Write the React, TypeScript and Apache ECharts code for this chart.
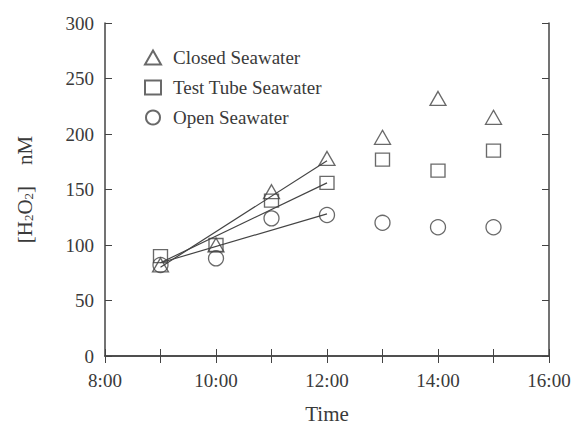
import React, { useEffect, useRef } from "react";
import * as echarts from "echarts";

const hours = [9, 10, 11, 12, 13, 14, 15];
const closedSeawater = [82, 100, 148, 178, 197, 232, 215];
const testTubeSeawater = [90, 100, 140, 156, 177, 167, 185];
const openSeawater = [82, 88, 124, 127, 120, 116, 116];

// fitted line endpoints (9:00 and 12:00)
const fitHours = [9, 12];
const fitClosed = [80, 176];
const fitTestTube = [84, 156];
const fitOpen = [84, 128];

const FONT = "Liberation Serif";
const INK = "#444";
const TXT = "#3a3a3a";

export default function App() {
  const ref = useRef<HTMLDivElement>(null);
  useEffect(() => {
    const chart = echarts.init(ref.current!, null, { renderer: "svg" });
    const pts = (ys: number[]) => hours.map((h, i) => [h, ys[i]]);
    const fit = (ys: number[]) => fitHours.map((h, i) => [h, ys[i]]);
    const markerSeries = (name: string, symbol: string, size: any, ys: number[]) => ({
      name,
      type: "scatter",
      symbol,
      symbolSize: size,
      data: pts(ys),
      itemStyle: { color: "rgba(255,255,255,0)", borderColor: INK, borderWidth: 1.3 },
      z: 3,
    });
    const lineSeries = (ys: number[]) => ({
      type: "line",
      data: fit(ys),
      showSymbol: false,
      symbol: "none",
      lineStyle: { color: INK, width: 1.2 },
      silent: true,
      z: 2,
    });
    chart.setOption({
      animation: false,
      textStyle: { fontFamily: FONT },
      grid: { left: 105, right: 28, top: 23, bottom: 69, containLabel: false, outerBoundsMode: "none" },
      legend: {
        left: 139,
        top: 43,
        orient: "vertical",
        itemGap: 11,
        itemWidth: 16,
        itemHeight: 14,
        textStyle: { fontFamily: FONT, fontSize: 19, color: TXT, padding: [0, 0, 0, 7] },
        data: ["Closed Seawater", "Test Tube Seawater", "Open Seawater"],
      },
      xAxis: [
        {
          type: "value",
          min: 8,
          max: 16,
          interval: 1,
          name: "Time",
          nameLocation: "middle",
          nameGap: 47,
          nameTextStyle: { fontFamily: FONT, fontSize: 21, color: TXT },
          axisLine: { lineStyle: { color: INK, width: 1.5 } },
          axisTick: { inside: true, length: 7, lineStyle: { color: INK } },
          axisLabel: {
            fontFamily: FONT,
            fontSize: 19,
            color: TXT,
            margin: 15,
            formatter: (v: number) => (v % 2 === 0 ? `${v}:00` : ""),
          },
          splitLine: { show: false },
        },
        {
          type: "value",
          position: "top",
          min: 8,
          max: 16,
          interval: 1,
          axisLine: { show: true, lineStyle: { color: INK, width: 1.5 } },
          axisTick: { show: true, inside: true, length: 7, lineStyle: { color: INK } },
          axisLabel: { show: false },
          splitLine: { show: false },
        },
      ],
      yAxis: [
        {
          type: "value",
          min: 0,
          max: 300,
          interval: 50,
          name: "{t|[H}{s|2}{t|O}{s|2}{t|]    nM}",
          nameLocation: "middle",
          nameGap: 70,
          nameTextStyle: {
            rich: {
              t: { fontFamily: FONT, fontSize: 21, color: TXT },
              s: { fontFamily: FONT, fontSize: 13, color: TXT, verticalAlign: "bottom", padding: [8, 0, 0, 0] },
            },
          },
          axisLine: { show: true, lineStyle: { color: INK, width: 1.5 } },
          axisTick: { show: true, inside: true, length: 7, lineStyle: { color: INK } },
          axisLabel: { fontFamily: FONT, fontSize: 19, color: TXT, margin: 11 },
          splitLine: { show: false },
        },
        {
          type: "value",
          position: "right",
          min: 0,
          max: 300,
          interval: 50,
          axisLine: { show: true, lineStyle: { color: INK, width: 1.5 } },
          axisTick: { show: true, inside: true, length: 7, lineStyle: { color: INK } },
          axisLabel: { show: false },
          splitLine: { show: false },
        },
      ],
      series: [
        lineSeries(fitClosed),
        lineSeries(fitTestTube),
        lineSeries(fitOpen),
        markerSeries("Closed Seawater", "triangle", [16, 14], closedSeawater),
        markerSeries("Test Tube Seawater", "rect", [14, 13], testTubeSeawater),
        markerSeries("Open Seawater", "circle", 15, openSeawater),
      ],
    });
    return () => chart.dispose();
  }, []);
  return (
    <div
      ref={ref}
      style={{ position: "fixed", left: 0, top: 0, width: 577, height: 425, background: "#fff" }}
    />
  );
}
